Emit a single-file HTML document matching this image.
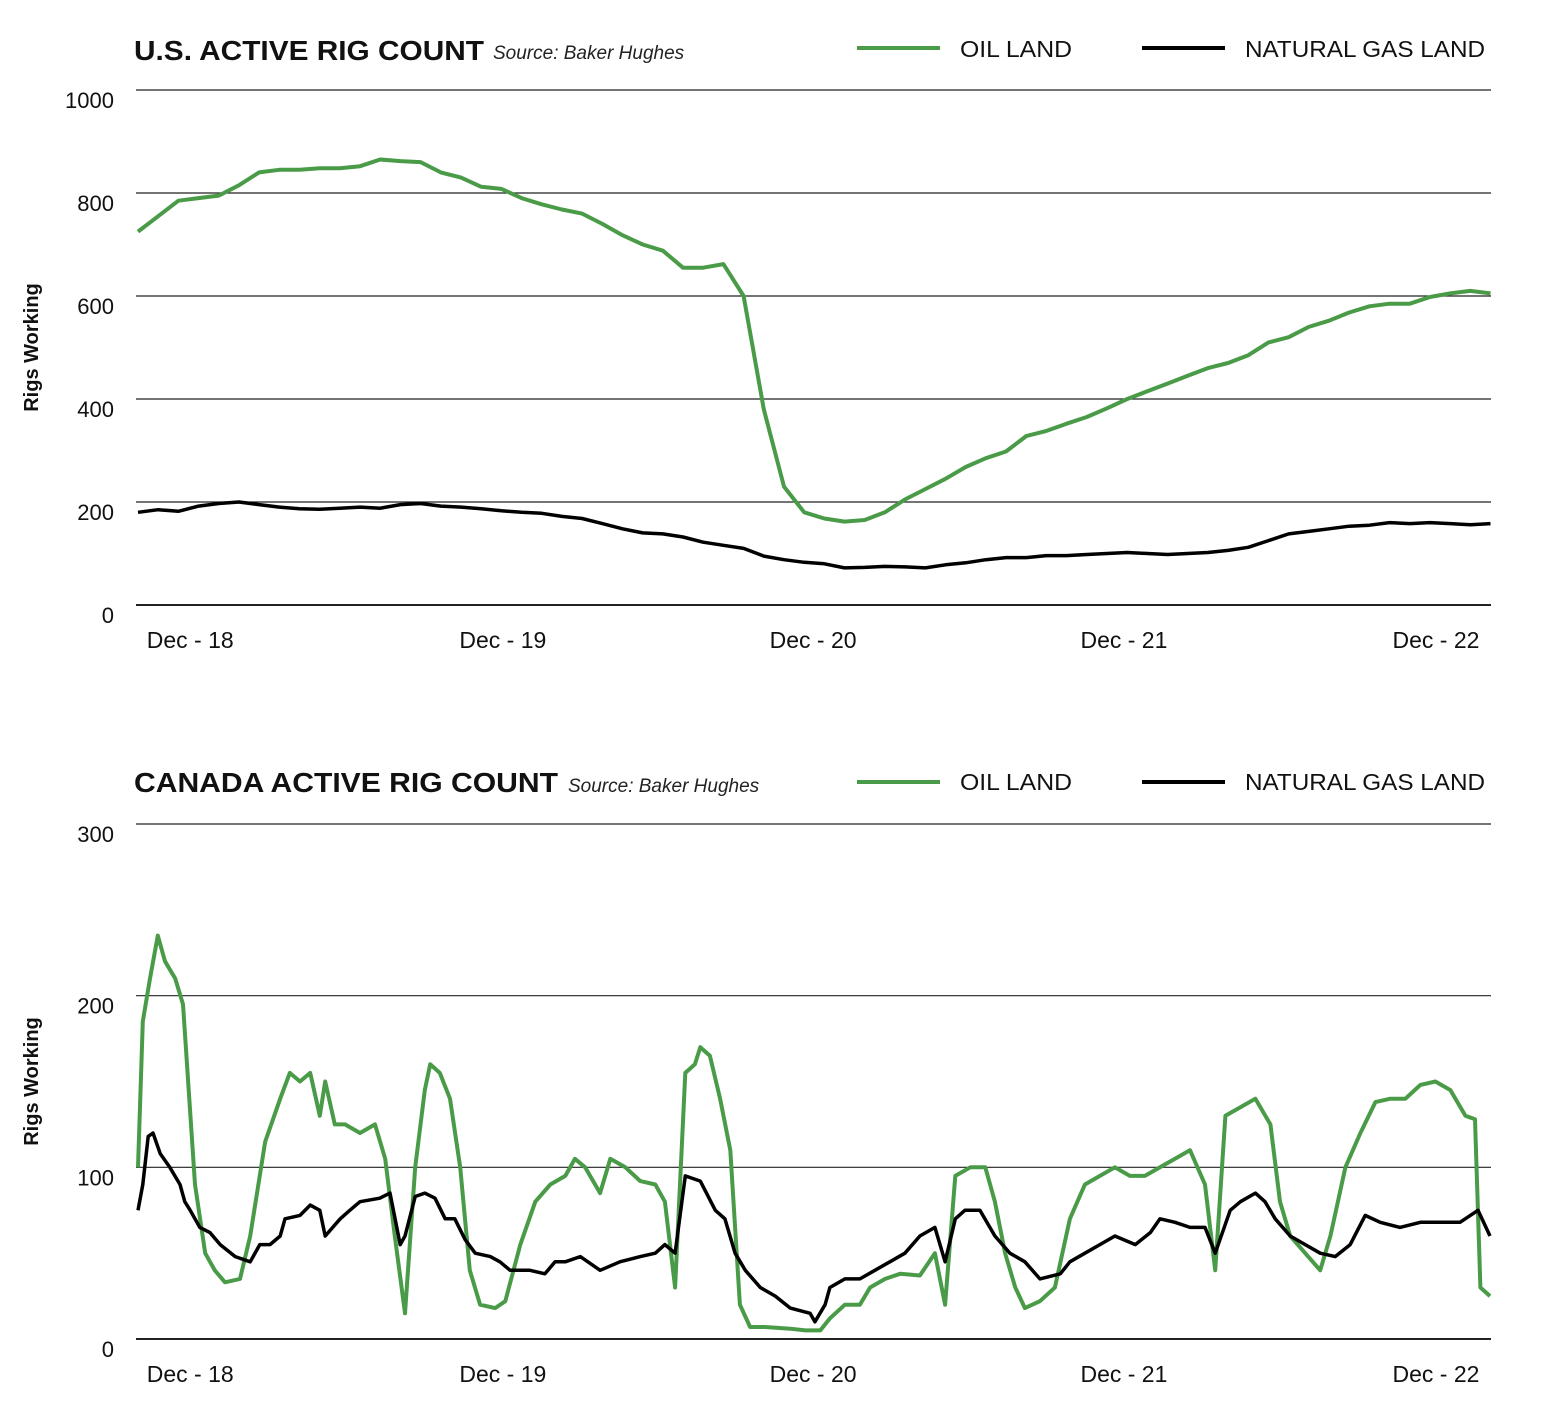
<!DOCTYPE html>
<html><head><meta charset="utf-8">
<style>
body{margin:0;background:#fff;}
svg{display:block;font-family:"Liberation Sans",sans-serif;}
</style></head>
<body>
<svg id="chart" width="1541" height="1422" viewBox="0 0 1541 1422" xmlns="http://www.w3.org/2000/svg">
  <g>
    <text x="134" y="60" font-size="28" font-weight="bold" fill="#111" textLength="350" lengthAdjust="spacingAndGlyphs">U.S. ACTIVE RIG COUNT</text>
    <text x="493" y="59" font-size="19" font-style="italic" fill="#222">Source: Baker Hughes</text>
    <line x1="857" y1="48" x2="940" y2="48" stroke="#4a9b48" stroke-width="4"/>
    <text x="960" y="57" font-size="23" fill="#111" textLength="112" lengthAdjust="spacingAndGlyphs">OIL LAND</text>
    <line x1="1142" y1="48" x2="1225" y2="48" stroke="#000" stroke-width="4"/>
    <text x="1245" y="57" font-size="23" fill="#111" textLength="240" lengthAdjust="spacingAndGlyphs">NATURAL GAS LAND</text>
  </g>
  <g>
    <text x="134" y="792" font-size="28" font-weight="bold" fill="#111" textLength="424" lengthAdjust="spacingAndGlyphs">CANADA ACTIVE RIG COUNT</text>
    <text x="568" y="792" font-size="19" font-style="italic" fill="#222">Source: Baker Hughes</text>
    <line x1="857" y1="782" x2="940" y2="782" stroke="#4a9b48" stroke-width="4"/>
    <text x="960" y="790" font-size="23" fill="#111" textLength="112" lengthAdjust="spacingAndGlyphs">OIL LAND</text>
    <line x1="1142" y1="782" x2="1225" y2="782" stroke="#000" stroke-width="4"/>
    <text x="1245" y="790" font-size="23" fill="#111" textLength="240" lengthAdjust="spacingAndGlyphs">NATURAL GAS LAND</text>
  </g>
  <g id="us"></g>
  <g id="ca"></g>
</svg>
<script>
// x axis ticks (weeks since start of series)
const xTickWeeks = [8.7, 60.8, 112.5, 164.3, 216.3];
const xTickLabels = ["Dec - 18", "Dec - 19", "Dec - 20", "Dec - 21", "Dec - 22"];
// US
const usYTicks = [0, 200, 400, 600, 800, 1000];
const usWeekStep = 3.364;
const usOil = [725,755,785,790,795,815,840,845,845,848,848,852,865,862,860,840,830,812,808,790,778,768,760,740,718,700,688,655,655,662,600,380,230,180,168,162,165,180,205,225,245,268,285,298,328,338,352,365,382,400,415,430,445,460,470,485,510,520,540,552,568,580,585,585,598,605,610,605];
const usGas = [180,185,182,192,197,200,195,190,187,186,188,190,188,195,197,192,190,187,183,180,178,172,168,158,148,140,138,132,122,116,110,95,88,83,80,72,73,75,74,72,78,82,88,92,92,96,96,98,100,102,100,98,100,102,106,112,125,138,143,148,153,155,160,158,160,158,156,158];
// Canada
const caYTicks = [0, 100, 200, 300];
const caOilWeeks = [0,0.8,2,3.3,4.5,6.2,7.5,9.5,11.2,12.8,14.5,17,18.7,21.2,23.7,25.3,27,28.7,30.3,31.2,32.8,34.5,37,39.5,41.2,42.8,44.5,46.2,47.8,48.7,50.3,52,53.7,55.3,57,59.5,61.2,63.7,66.2,68.7,71.2,72.8,74.5,77,78.7,81.2,83.7,86.2,87.8,89.5,91.2,92.8,93.7,95.3,97,98.7,100.3,102,104.5,108.7,111.2,113.7,115.3,117.8,120.3,122,124.5,127,130.3,132.8,134.5,136.2,138.7,141.2,142.8,144.5,146.2,147.8,150.3,152.8,155.3,157.8,160.3,162.8,165.3,167.8,170.3,172.8,175.3,177.8,179.5,181.2,183.7,186.2,188.7,190.3,192,194.5,197,198.7,201.2,203.7,206.2,208.7,211.2,213.7,216.2,218.7,221.2,222.8,223.7,225.3];
const caOil = [100,185,210,235,220,210,195,90,50,40,33,35,60,115,140,155,150,155,130,150,125,125,120,125,105,60,15,100,145,160,155,140,100,40,20,18,22,55,80,90,95,105,100,85,105,100,92,90,80,30,155,160,170,165,140,110,20,7,7,6,5,5,12,20,20,30,35,38,37,50,20,95,100,100,80,50,30,18,22,30,70,90,95,100,95,95,100,105,110,90,40,130,135,140,125,80,60,50,40,60,100,120,138,140,140,148,150,145,130,128,30,25];
const caGasWeeks = [0,0.8,1.7,2.5,3.7,5.3,7,7.8,8.7,10.3,12,13.7,16.2,18.7,20.3,22,23.7,24.5,27,28.7,30.3,31.2,33.7,35.3,37,40.3,42,43.7,44.5,46.2,47.8,49.5,51.2,52.8,54.5,56.2,58.7,60.3,62,65.3,67.8,69.5,71.2,73.7,77,80.3,83.7,86.2,87.8,89.5,91.2,93.7,96.2,97.8,99.5,101.2,103.7,106.2,108.7,112,112.8,114.5,115.3,117.8,120.3,122.8,125.3,127.8,130.3,132.8,134.5,136.2,137.8,140.3,142.8,145.3,147.8,150.3,153.7,155.3,157.8,160.3,162.8,166.2,168.7,170.3,172.8,175.3,177.8,179.5,182,183.7,186.2,187.8,189.5,192,194.5,197,199.5,202,204.5,207,210.3,213.7,217,220.3,223.3,225.3];
const caGas = [75,90,118,120,108,100,90,80,75,65,62,55,48,45,55,55,60,70,72,78,75,60,70,75,80,82,85,55,60,83,85,82,70,70,58,50,48,45,40,40,38,45,45,48,40,45,48,50,55,50,95,92,75,70,50,40,30,25,18,15,10,20,30,35,35,40,45,50,60,65,45,70,75,75,60,50,45,35,38,45,50,55,60,55,62,70,68,65,65,50,75,80,85,80,70,60,55,50,48,55,72,68,65,68,68,68,75,60];

const NS = "http://www.w3.org/2000/svg";
const X0 = 138, X1 = 1490, WMAX = 225.3;
function xScale(w){ return X0 + (w / WMAX) * (X1 - X0); }
function mk(tag, attrs, parent){
  const el = document.createElementNS(NS, tag);
  for (const k in attrs) el.setAttribute(k, attrs[k]);
  parent.appendChild(el);
  return el;
}
function drawChart(g, yTicks, yBase, yTop, vmax, prefix){
  const yScale = v => yBase - (v / vmax) * (yBase - yTop);
  yTicks.forEach(t => {
    const y = yScale(t);
    const ln = mk("line", {x1: 136, x2: 1491, y1: y, y2: y, stroke: "#222", "stroke-width": t === 0 ? 2 : 1.2}, g);
    
    
    const tx = mk("text", {x: 114, y: y + 18, "font-size": 22, "text-anchor": "end", fill: "#111"}, g);
    tx.textContent = String(t);
    
    
  });
  xTickWeeks.forEach((w, i) => {
    const tx = mk("text", {x: xScale(w), y: yBase + 43, "font-size": 23, "text-anchor": "middle", fill: "#111"}, g);
    tx.textContent = xTickLabels[i];
    
    
  });
  const cy = (yBase + yTop) / 2;
  const yl = mk("text", {x: 38, y: cy, "font-size": 20, "font-weight": "bold", "text-anchor": "middle", transform: "rotate(-90 38 " + cy + ")", fill: "#111"}, g);
  yl.textContent = "Rigs Working";
  
  
  return yScale;
}
function drawLine(g, weeks, vals, yScale, color, width, name){
  const d = vals.map((v, i) => (i ? "L" : "M") + xScale(weeks[i]).toFixed(1) + " " + yScale(v).toFixed(1)).join(" ");
  const p = mk("path", {d: d, fill: "none", stroke: color, "stroke-width": width, "stroke-linejoin": "round"}, g);
  
  
}
const us = document.getElementById("us");
const usY = drawChart(us, usYTicks, 605, 90, 1000, "us");
const usWeeks = usOil.map((_, i) => i * usWeekStep);
drawLine(us, usWeeks, usGas, usY, "#000", 3.5, "us-gas-line");
drawLine(us, usWeeks, usOil, usY, "#4a9b48", 4, "us-oil-line");
const ca = document.getElementById("ca");
const caY = drawChart(ca, caYTicks, 1339, 824, 300, "canada");
drawLine(ca, caOilWeeks, caOil, caY, "#4a9b48", 4, "canada-oil-line");
drawLine(ca, caGasWeeks, caGas, caY, "#000", 3.5, "canada-gas-line");
</script>
</body></html>
